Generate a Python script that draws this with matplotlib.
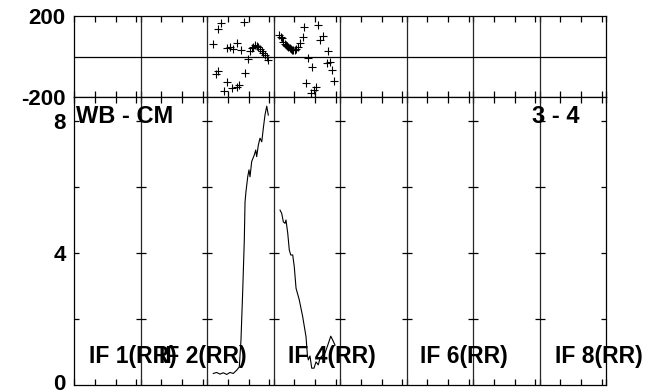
import numpy as np
import matplotlib.pyplot as plt
from matplotlib.transforms import ScaledTranslation

plt.rcParams['font.family'] = ['Liberation Sans', 'DejaVu Sans']
plt.rcParams['font.weight'] = 'bold'
plt.rcParams['axes.unicode_minus'] = False

# channel axis: 8 IFs x 64 channels
n_if = 8
n_chan = 64

# phase (deg) per channel, IF 3 and IF 4
if3_ph_ch = [134.1, 136.7, 138.6, 138.9, 141.2, 144.4, 147.0, 147.5, 150.1, 151.8,
             153.3, 156.6, 157.2, 159.1, 160.4, 163.6, 164.6, 167.2, 169.4, 171.0,
             172.6, 174.2, 175.8, 177.4, 179.1, 180.7, 182.2, 183.8, 185.5, 187.0]
if3_ph = [61.7, -86.4, 134.0, -70.1, 166.9, -170.4, 40.5, -124.4, 45.4, -157.0,
          37.0, -152.0, 65.2, -140.7, 32.1, 171.8, -80.0, -10.9, 28.6, 40.5,
          48.4, 55.3, 51.8, 45.4, 35.6, 28.6, 18.8, 8.9, -1.0, -17.3]

if4_ph_ch = [197.6, 198.8, 199.9, 201.4, 202.7, 204.0, 205.2, 206.3, 207.5, 208.6,
             209.9, 211.1, 212.4, 213.7, 215.9, 217.5, 220.1, 221.7, 223.3, 224.9,
             228.1, 229.4, 230.5, 232.9, 234.8, 236.8, 239.4, 243.2, 244.8, 246.1,
             248.6, 250.5]
if4_ph = [106.2, 98.0, 89.9, 73.1, 64.0, 56.8, 50.0, 45.4, 40.0, 37.0,
          34.0, 32.1, 33.0, 35.6, 48.4, 65.2, 97.8, 144.2, -132.3, -8.9,
          -178.8, -50.4, -163.0, -149.1, 155.5, 81.5, 101.2, -33.6, 28.6, -27.2,
          -69.1, -119.5]

# amplitude per channel, IF 3 and IF 4
if3_amp_ch = [134.1, 137.3, 140.5, 143.7, 147.0, 150.1, 153.3, 156.6, 158.1, 159.1,
              160.7, 162.4, 163.9, 164.6, 165.5, 167.2, 168.4, 169.4, 171.0, 173.5,
              174.9, 175.8, 177.4, 179.0, 180.7, 182.2, 183.8, 185.5, 187.0]
if3_amp = [0.35, 0.38, 0.33, 0.37, 0.32, 0.38, 0.35, 0.45, 0.51, 0.55,
           1.36, 2.88, 4.39, 5.55, 5.86, 6.31, 6.52, 6.31, 6.77, 6.97,
           7.12, 6.92, 7.27, 7.48, 7.37, 7.78, 8.18, 8.45, 8.18]

if4_amp_ch = [198.3, 199.9, 201.5, 203.1, 204.0, 205.7, 207.2, 208.6, 210.5, 212.0,
              213.7, 216.8, 220.1, 223.3, 224.6, 225.5, 227.1, 228.8, 231.0, 232.9,
              235.1, 236.8, 238.7, 241.6, 244.8, 247.1, 249.0, 251.2]
if4_amp = [5.30, 5.20, 4.94, 4.90, 5.00, 4.60, 4.09, 3.94, 3.94, 3.58,
           2.93, 2.58, 2.07, 1.46, 0.91, 0.76, 0.88, 0.51, 0.51, 0.70,
           0.61, 0.82, 0.88, 0.97, 1.26, 1.48, 1.36, 1.21]

if_labels = ['IF 1(RR)', 'IF 2(RR)', 'IF 4(RR)', 'IF 6(RR)', 'IF 8(RR)']
label_x = [14.5, 82, 206, 333, 463]

baseline = 'WB - CM'
stokes_txt = '3 - 4'

W, H = 647, 392
fig = plt.figure(figsize=(W / 100, H / 100), dpi=100)
x0, x1 = 74 / W, 606 / W
ax_ph = fig.add_axes([x0, 1 - 97 / H, x1 - x0, 81 / H])
ax_amp = fig.add_axes([x0, 1 - 385 / H, x1 - x0, 288 / H])

xmax = n_if * n_chan
bounds = np.arange(0, xmax + 1, n_chan)
minor = [b + k for b in bounds[:-1] for k in (20, 40, 60)]
xt = sorted(list(bounds) + minor)

for ax in (ax_ph, ax_amp):
    ax.set_xlim(0, xmax)
    for b in bounds[1:-1]:
        ax.axvline(b, color='0.15', lw=0.9)
    ax.set_xticks(xt)
    ax.set_xticklabels([])
    ax.tick_params(axis='x', direction='in', top=True, bottom=True,
                   length=4, width=0.9)
    ax.tick_params(axis='y', length=0, labelsize=16, pad=6)
    for s in ax.spines.values():
        s.set_linewidth(0.9)

# phase panel
ax_ph.set_ylim(-200, 200)
ax_ph.set_yticks([-200, 200])
ax_ph.axhline(0, color='black', lw=0.9)
ax_ph.plot(if3_ph_ch, if3_ph, '+', color='black', ms=6, mew=0.8)
ax_ph.plot(if4_ph_ch, if4_ph, '+', color='black', ms=6, mew=0.8)

# amplitude panel
ax_amp.set_ylim(0, 288 / 33)
ax_amp.set_yticks([0, 4, 8])
ax_amp.set_yticklabels(['0', '4', '8'])
zero_lab = ax_amp.get_yticklabels()[0]
zero_lab.set_transform(zero_lab.get_transform() +
                       ScaledTranslation(0, 3 / 100, fig.dpi_scale_trans))
bx, by = np.meshgrid(bounds, [2, 4, 6, 8])
ax_amp.plot(bx.ravel(), by.ravel(), '_', color='black', ms=7.5, mew=0.9)
ax_amp.plot(if3_amp_ch, if3_amp, color='black', lw=0.8)
ax_amp.plot(if4_amp_ch, if4_amp, color='black', lw=0.8)

ax_amp.text(0.004, 0.934, baseline, transform=ax_amp.transAxes,
            fontsize=17, fontweight='bold', va='center', ha='left')
ax_amp.text(0.951, 0.934, stokes_txt, transform=ax_amp.transAxes,
            fontsize=17, fontweight='bold', va='center', ha='right')
for lx, lab in zip(label_x, if_labels):
    ax_amp.text(lx, 0.10, lab, transform=ax_amp.get_xaxis_transform(),
                fontsize=16.5, fontweight='bold', va='center', ha='left')

fig.savefig('out.png', dpi=100)
